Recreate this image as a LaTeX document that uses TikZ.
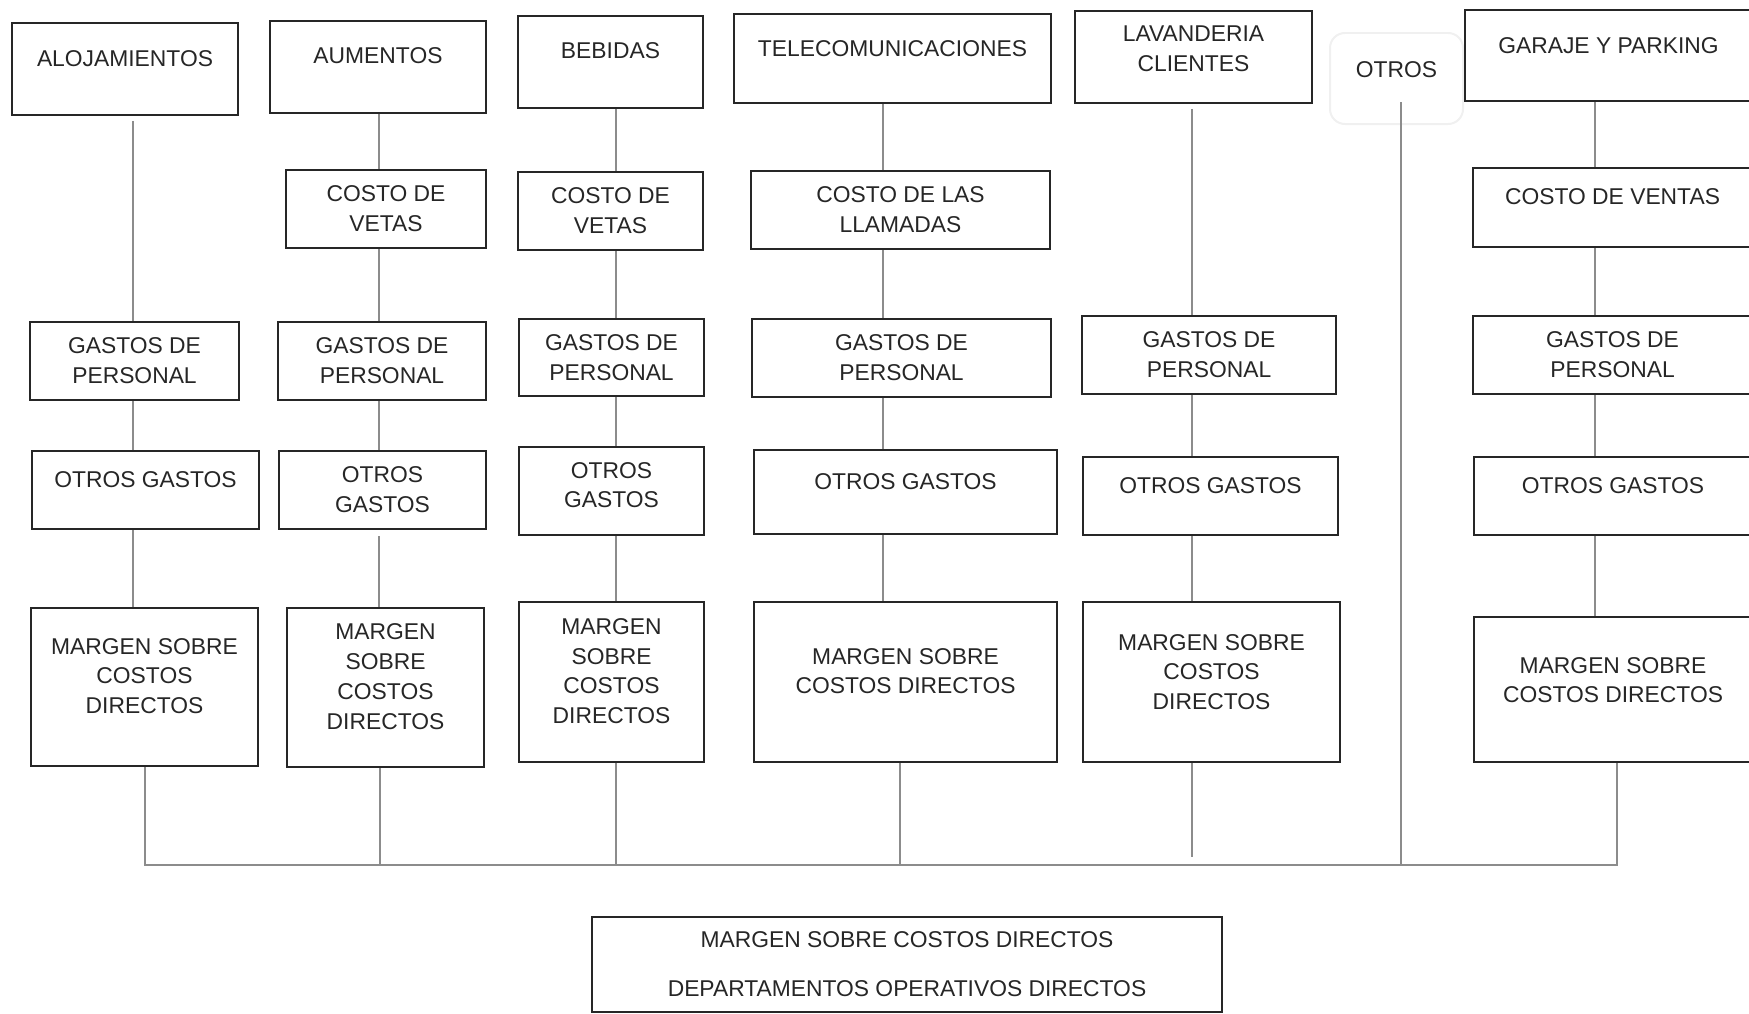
\documentclass[tikz,border=0pt]{standalone}
\usepackage{fontspec}
\setmainfont{Liberation Sans}
\begin{document}
\begin{tikzpicture}[x=0.02cm, y=-0.02cm,
    caja/.style={draw=black!85, line width=0.04cm, align=center, inner sep=0pt,
      text=black!85, font=\fontsize{13}{17}\selectfont},
    tam/.style 2 args={minimum width=#1*0.02cm, minimum height=#2*0.02cm},
    arriba/.style={text depth=#1*0.02cm}, arriba/.default=20,
    linea/.style={draw=black!45, line width=0.03cm}]

  \useasboundingbox (0,0) rectangle (1749,1014);

  % alojamientos
  \node[caja, tam={226}{92}, arriba] (aloj) at (125,69) {ALOJAMIENTOS};
  \node[caja, tam={209}{78}] (gp1) at (134.5,361) {GASTOS DE\\PERSONAL};
  \node[caja, tam={227}{78}, arriba] (og1) at (145.5,490) {OTROS GASTOS};
  \node[caja, tam={227}{158}, arriba=22] (mg1) at (144.5,687) {MARGEN SOBRE\\COSTOS\\DIRECTOS};

  % aumentos
  \node[caja, tam={216}{92}, arriba=22] (aum) at (378,67) {AUMENTOS};
  \node[caja, tam={200}{78}] (cv2) at (386,209) {COSTO DE\\VETAS};
  \node[caja, tam={208}{78}] (gp2) at (382,361) {GASTOS DE\\PERSONAL};
  \node[caja, tam={207}{78}] (og2) at (382.5,490) {OTROS\\GASTOS};
  \node[caja, tam={197}{159}, arriba=22] (mg2) at (385.5,687.5) {MARGEN\\SOBRE\\COSTOS\\DIRECTOS};

  % bebidas
  \node[caja, tam={185}{92}, arriba=22] (beb) at (610.5,62) {BEBIDAS};
  \node[caja, tam={185}{78}] (cv3) at (610.5,211) {COSTO DE\\VETAS};
  \node[caja, tam={185}{77}] (gp3) at (611.5,357.5) {GASTOS DE\\PERSONAL};
  \node[caja, tam={185}{88}, arriba=12] (og3) at (611.5,491) {OTROS\\GASTOS};
  \node[caja, tam={185}{160}, arriba=22] (mg3) at (611.5,682) {MARGEN\\SOBRE\\COSTOS\\DIRECTOS};

  % telecomunicaciones
  \node[caja, tam={317}{89}, arriba] (tel) at (892.5,58.5) {TELECOMUNICACIONES};
  \node[caja, tam={299}{78}] (cl4) at (900.5,210) {COSTO DE LAS\\LLAMADAS};
  \node[caja, tam={299}{78}] (gp4) at (901.5,358) {GASTOS DE\\PERSONAL};
  \node[caja, tam={303}{84}, arriba] (og4) at (905.5,492) {OTROS GASTOS};
  \node[caja, tam={303}{160}, arriba=22] (mg4) at (905.5,682) {MARGEN SOBRE\\COSTOS DIRECTOS};

  % lavanderia
  \node[caja, tam={237}{92}, arriba=16] (lav) at (1193.5,57) {LAVANDERIA\\CLIENTES};
  \node[caja, tam={254}{78}] (gp5) at (1209,355) {GASTOS DE\\PERSONAL};
  \node[caja, tam={255}{78}, arriba] (og5) at (1210.5,496) {OTROS GASTOS};
  \node[caja, tam={257}{160}, arriba] (mg5) at (1211.5,682) {MARGEN SOBRE\\COSTOS\\DIRECTOS};

  % otros
  \node[caja, draw=black!6, rounded corners=0.3cm, tam={133}{91}, arriba=17] (otr) at (1396.5,78.5) {OTROS};

  % garaje
  \node[caja, tam={287}{91}, arriba=19] (gar) at (1608.5,55.5) {GARAJE Y PARKING};
  \node[caja, tam={279}{79}, arriba=21] (cv7) at (1612.5,207.5) {COSTO DE VENTAS};
  \node[caja, tam={279}{78}] (gp7) at (1612.5,355) {GASTOS DE\\PERSONAL};
  \node[caja, tam={278}{78}, arriba] (og7) at (1613,496) {OTROS GASTOS};
  \node[caja, tam={278}{145}, arriba=19] (mg7) at (1613,689.5) {MARGEN SOBRE\\COSTOS DIRECTOS};

  % total
  \node[caja, tam={630}{95}] (tot) at (907,964.5) {MARGEN SOBRE COSTOS DIRECTOS\\[10.8pt]DEPARTAMENTOS OPERATIVOS DIRECTOS};

  \coordinate (x1) at (133,0);
  \coordinate (x2) at (379,0);
  \coordinate (x3) at (616,0);
  \coordinate (x4) at (883,0);
  \coordinate (x5) at (1192,0);
  \coordinate (x6) at (1401,0);
  \coordinate (x7) at (1595,0);
  \coordinate (o6) at (1401,102);
  \coordinate (b1) at (145,865);
  \coordinate (b2) at (380,865);
  \coordinate (b4) at (900,865);
  \coordinate (b7) at (1617,865);

  \draw[linea, shorten <=0.1cm] (aloj.south -| x1) -- (gp1.north -| x1);
  \draw[linea] (gp1.south -| x1) -- (og1.north -| x1);
  \draw[linea] (og1.south -| x1) -- (mg1.north -| x1);

  \draw[linea] (aum.south -| x2) -- (cv2.north -| x2);
  \draw[linea] (cv2.south -| x2) -- (gp2.north -| x2);
  \draw[linea] (gp2.south -| x2) -- (og2.north -| x2);
  \draw[linea, shorten <=0.12cm] (og2.south -| x2) -- (mg2.north -| x2);

  \draw[linea] (beb.south -| x3) -- (cv3.north -| x3);
  \draw[linea] (cv3.south -| x3) -- (gp3.north -| x3);
  \draw[linea] (gp3.south -| x3) -- (og3.north -| x3);
  \draw[linea] (og3.south -| x3) -- (mg3.north -| x3);

  \draw[linea] (tel.south -| x4) -- (cl4.north -| x4);
  \draw[linea] (cl4.south -| x4) -- (gp4.north -| x4);
  \draw[linea] (gp4.south -| x4) -- (og4.north -| x4);
  \draw[linea] (og4.south -| x4) -- (mg4.north -| x4);

  \draw[linea, shorten <=0.1cm] (lav.south -| x5) -- (gp5.north -| x5);
  \draw[linea] (gp5.south -| x5) -- (og5.north -| x5);
  \draw[linea] (og5.south -| x5) -- (mg5.north -| x5);

  \draw[linea] (gar.south -| x7) -- (cv7.north -| x7);
  \draw[linea] (cv7.south -| x7) -- (gp7.north -| x7);
  \draw[linea] (gp7.south -| x7) -- (og7.north -| x7);
  \draw[linea] (og7.south -| x7) -- (mg7.north -| x7);

  % barra inferior
  \draw[linea] (mg1.south -| b1) -- (b1) -- (b7) -- (mg7.south -| b7);
  \draw[linea] (mg2.south -| b2) -- (b2);
  \draw[linea] (mg3.south -| x3) -- (b1 -| x3);
  \draw[linea] (mg4.south -| b4) -- (b4);
  \draw[linea, shorten >=0.16cm] (mg5.south -| x5) -- (b1 -| x5);
  \draw[linea] (o6) -- (b1 -| x6);

\end{tikzpicture}
\end{document}
